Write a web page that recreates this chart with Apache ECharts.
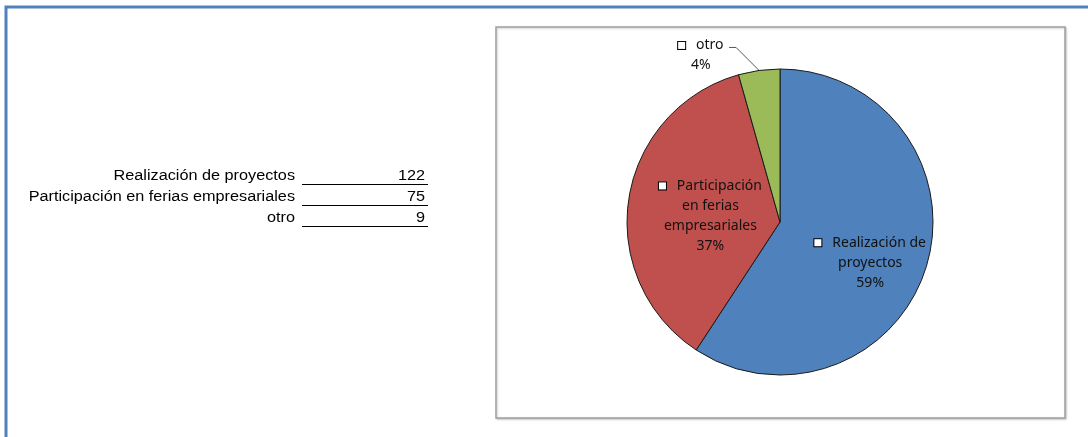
<!DOCTYPE html>
<html>
<head>
<meta charset="utf-8">
<script src="https://cdn.jsdelivr.net/npm/echarts@6/dist/echarts.min.js"></script>
<style>
  html, body { margin: 0; padding: 0; background: #fff; }
  #main { width: 1088px; height: 437px; }
</style>
</head>
<body>
<div id="main"></div>
<script>
// datos
var categories = ['Realización de proyectos', 'Participación en ferias empresariales', 'otro'];
var values = [122, 75, 9];
// textos de las etiquetas del pastel
var sliceLabels = ['Realización de\nproyectos', 'Participación\nen ferias\nempresariales', 'otro'];
var percentLabels = ['59%', '37%', '4%'];

(function () {
  var myChart = echarts.init(document.getElementById('main'));
  var colors = ['#4f81bd', '#c0504d', '#9bbb59'];

  // tabla de la izquierda
  var tableFont = '14px "Liberation Sans", Arial, sans-serif';
  var tableItems = [];
  categories.forEach(function (name, i) {
    var y = 176 + i * 21;
    tableItems.push({
      type: 'text', x: 295, y: y, scaleX: 1.16,
      style: { text: name, font: tableFont, fill: '#000', align: 'right', verticalAlign: 'middle' }
    });
    tableItems.push({
      type: 'text', x: 425, y: y, scaleX: 1.16,
      style: { text: String(values[i]), font: tableFont, fill: '#000', align: 'right', verticalAlign: 'middle' }
    });
    tableItems.push({
      type: 'line',
      shape: { x1: 302, y1: y + 8.5, x2: 428, y2: y + 8.5 },
      style: { stroke: '#000', lineWidth: 1 }
    });
  });

  var option = {
    color: colors,
    animation: false,
    graphic: [
      // marco azul
      {
        type: 'rect',
        shape: { x: 6, y: 7, width: 1200, height: 600 },
        style: { fill: 'none', stroke: '#4f81bd', lineWidth: 3 }
      },
      // cuadro del grafico
      {
        type: 'rect',
        shape: { x: 496, y: 27, width: 569, height: 391 },
        style: {
          fill: '#fff', stroke: '#a0a0a0', lineWidth: 1.5,
          shadowBlur: 2, shadowColor: 'rgba(0,0,0,0.2)', shadowOffsetX: 1, shadowOffsetY: 1
        }
      }
    ].concat(tableItems),
    series: [
      {
        type: 'pie',
        center: [780, 222],
        radius: 153,
        startAngle: 90,
        clockwise: true,
        data: categories.map(function (name, i) {
          return { name: name, value: values[i] };
        }),
        itemStyle: {
          borderColor: '#1a1a1a',
          borderWidth: 1
        },
        label: {
          show: true,
          position: 'inside',
          color: '#111',
          fontFamily: '"Noto Sans", sans-serif',
          fontSize: 14,
          lineHeight: 20,
          align: 'center',
          formatter: function (p) {
            return '{sq|}   ' + sliceLabels[p.dataIndex] + '\n' + percentLabels[p.dataIndex];
          },
          rich: {
            sq: { width: 7, height: 7, borderColor: '#000', borderWidth: 1, backgroundColor: '#fff' }
          }
        },
        labelLine: {
          show: true,
          length: 24,
          length2: 8,
          lineStyle: { color: '#555', width: 1 }
        },
        labelLayout: function (p) {
          // ajustar etiquetas como en Excel
          if (p.dataIndex === 0) return { dx: 14, dy: 18 };
          if (p.dataIndex === 1) return { dx: 9, dy: 6 };
          // "otro": linea en diagonal y luego horizontal
          var pts = p.labelLinePoints;
          if (!pts) return {};
          var start = pts[0];
          var mid = [start[0] - 23, start[1] - 23];
          var end = [mid[0] - 7, mid[1]];
          return {
            x: end[0] - 5 - p.labelRect.width / 2,
            y: end[1] + 8,
            align: 'center',
            verticalAlign: 'middle',
            labelLinePoints: [start, mid, end]
          };
        }
      }
    ]
  };
  // la porcion "otro" lleva la etiqueta afuera
  option.series[0].data[2].label = { position: 'outside' };

  myChart.setOption(option);
  window.addEventListener('resize', function () {
    myChart.resize();
  });
})();
</script>
</body>
</html>
